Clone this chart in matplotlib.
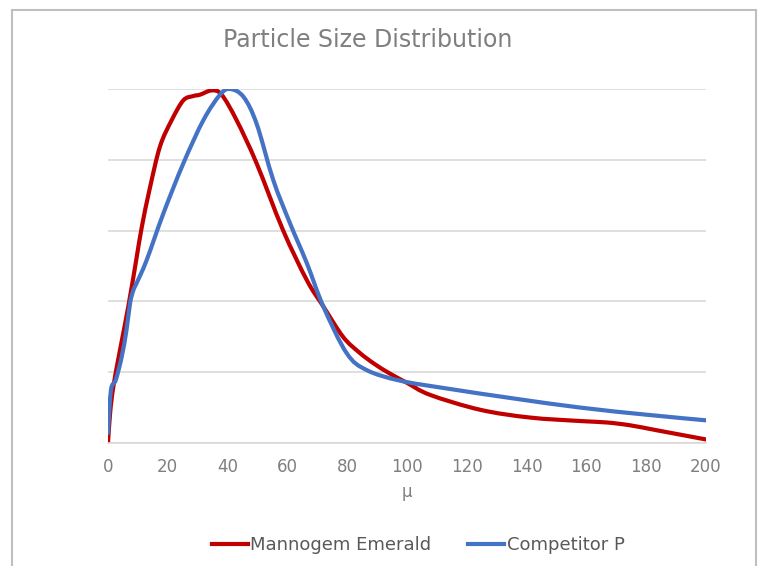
import matplotlib
matplotlib.use("Agg")
import matplotlib.pyplot as plt
import numpy as np
from matplotlib.path import Path
from matplotlib.patches import PathPatch, Rectangle
from matplotlib.lines import Line2D

plt.rcParams['font.family'] = ['DejaVu Sans']

# Data (x in microns, y in relative units 0-5)
emerald_x = [0, 0.7, 1.8, 4, 6.8, 9.5, 11.3, 14, 17.4, 21.3, 25.2, 28.5, 30.8, 34.7, 38, 43, 49.7,
             58.5, 66.5, 72, 78.6, 84, 89, 94.3, 100, 107.7, 124.4, 141, 158, 166.8, 174.6, 183.5, 200]
emerald_y = [0, 0.42, 0.8, 1.31, 1.93, 2.6, 3.05, 3.6, 4.19, 4.56, 4.84, 4.9, 4.92, 4.98, 4.92, 4.56, 3.95,
             3.01, 2.3, 1.93, 1.5, 1.28, 1.12, 0.98, 0.85, 0.68, 0.47, 0.36, 0.31, 0.29, 0.25, 0.18, 0.05]
competitor_x = [0, 1.0, 2.6, 4.6, 6.2, 7.4, 8.5, 9.6, 12.9, 18.5, 25.2, 31.9, 37.5, 40.8, 45.3, 49.7,
                55.3, 60.9, 66.5, 72, 79.8, 86.5, 97.7, 113.3, 135.5, 158, 180, 200]
competitor_y = [0.14, 0.75, 0.89, 1.22, 1.6, 1.98, 2.16, 2.26, 2.58, 3.24, 3.95, 4.56, 4.92, 5.0, 4.89, 4.51,
                3.71, 3.1, 2.54, 1.93, 1.27, 1.03, 0.88, 0.77, 0.63, 0.50, 0.40, 0.32]
x_ticks = list(range(0, 201, 20))

RED = '#C00000'
BLUE = '#4472C4'
GRAY = '#7F7F7F'


def smooth_path(xs, ys):
    # Catmull-Rom segments written as cubic Bezier curves (like a smoothed line in Excel)
    p = np.column_stack([xs, ys]).astype(float)
    verts = [p[0]]
    codes = [Path.MOVETO]
    n = len(p)
    for i in range(n - 1):
        p0 = p[i - 1] if i > 0 else p[i]
        p3 = p[i + 2] if i + 2 < n else p[i + 1]
        c1 = p[i] + (p[i + 1] - p0) / 6
        c2 = p[i + 1] - (p3 - p[i]) / 6
        verts += [c1, c2, p[i + 1]]
        codes += [Path.CURVE4] * 3
    return Path(verts, codes)


fig = plt.figure(figsize=(7.6, 5.66), dpi=100, facecolor='white')
ax = fig.add_axes([108 / 760, 1 - 443 / 566, 598 / 760, 354 / 566])

for xs, ys, c in [(emerald_x, emerald_y, RED), (competitor_x, competitor_y, BLUE)]:
    ax.add_patch(PathPatch(smooth_path(xs, ys), facecolor='none', edgecolor=c,
                           lw=3, capstyle='round', joinstyle='round'))

ax.set_xlim(0, 200)
ax.set_ylim(0, 5)
ax.set_xticks(x_ticks)
ax.set_yticks([0, 1, 2, 3, 4, 5])
ax.set_yticklabels([])
ax.tick_params(axis='both', length=0, labelsize=12, labelcolor=GRAY, pad=11)
ax.grid(axis='y', color='#D9D9D9', lw=1.2)
ax.set_axisbelow(True)
for s in ['top', 'right', 'left']:
    ax.spines[s].set_visible(False)
ax.spines['bottom'].set_color('#D9D9D9')
ax.spines['bottom'].set_linewidth(1.2)
ax.set_xlabel('μ', fontsize=12, color=GRAY, labelpad=5)

fig.text(368 / 760, 1 - 40 / 566, 'Particle Size Distribution', ha='center', va='center',
         fontsize=17, color=GRAY)

handles = [Line2D([], [], color=RED, lw=3), Line2D([], [], color=BLUE, lw=3)]
fig.legend(handles, ['Mannogem Emerald', 'Competitor P'], loc='center',
           bbox_to_anchor=(418 / 760, 1 - 545 / 566), ncol=2, frameon=False,
           fontsize=13, labelcolor='#595959', handlelength=2.0, handletextpad=0.15,
           columnspacing=2.0)

fig.patches.append(Rectangle((12 / 760, -0.02), 744 / 760, 1.02 - 10 / 566,
                             transform=fig.transFigure, fill=False,
                             edgecolor='#BFBFBF', lw=1.5))

fig.savefig('out.png', dpi=100, facecolor='white')
